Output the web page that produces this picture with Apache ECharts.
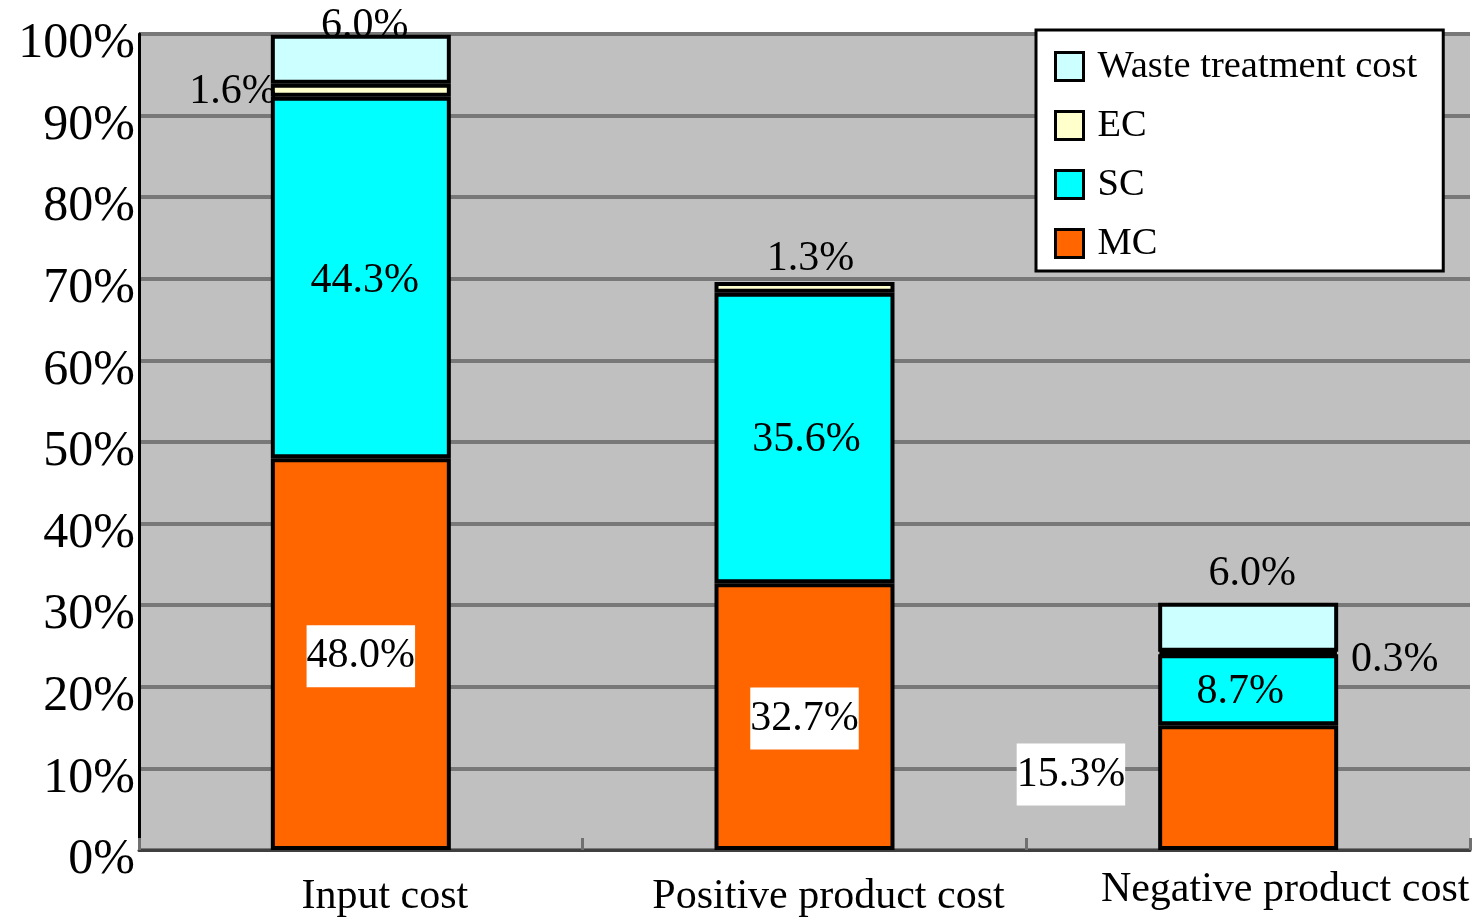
<!DOCTYPE html>
<html>
<head>
<meta charset="utf-8">
<script src="https://cdn.jsdelivr.net/npm/echarts@6/dist/echarts.min.js"></script>
<style>
html,body{margin:0;padding:0;background:#fff;}
#chart{width:1480px;height:920px;}
</style>
</head>
<body>
<div id="chart"></div>
<script>
var categories = ['Input cost', 'Positive product cost', 'Negative product cost'];
var mcValues = [48.0, 32.7, 15.3];
var scValues = [44.3, 35.6, 8.7];
var ecValues = [1.6, 1.3, 0.3];
var wasteValues = [6.0, null, 6.0];
var yTicks = [0, 10, 20, 30, 40, 50, 60, 70, 80, 90, 100];

var FONT = '"Liberation Serif", "Times New Roman", serif';
function fmt(p) { return p.value.toFixed(1) + '%'; }

var baseLabel = { show: true, color: '#000', fontFamily: FONT, fontSize: 42, formatter: fmt };

function item(v, label) { return v == null ? '-' : { value: v, label: label }; }

var mcLabels = [
  { position: 'inside', backgroundColor: '#fff', padding: [11, 0, 9, 0], offset: [0, 2] },
  { position: 'inside', backgroundColor: '#fff', padding: [11, 0, 9, 0], offset: [0, 2] },
  { position: 'left', distance: 33, backgroundColor: '#fff', padding: [11, 0, 9, 0], offset: [0, -13] }
];
var scLabels = [{ position: 'inside', offset: [4, 3] }, { position: 'inside', offset: [2, 2] }, { position: 'inside', offset: [-8, 2] }];
var ecLabels = [
  { position: 'left', distance: 0, offset: [6, 2] },
  { position: 'top', distance: 2, offset: [6, 0] },
  { position: 'right', distance: 12, offset: [0, 7] }
];
var wasteLabels = [
  { position: 'top', distance: 0, offset: [4, 12] },
  null,
  { position: 'top', distance: 8, offset: [4, 0] }
];

function mk(name, values, labels, color) {
  return {
    name: name,
    type: 'bar',
    stack: 'total',
    barWidth: 180,
    itemStyle: { color: color, borderColor: '#000', borderWidth: 4 },
    label: baseLabel,
    emphasis: { disabled: true },
    data: values.map(function (v, i) { return item(v, labels[i]); })
  };
}

var chart = echarts.init(document.getElementById('chart'), null, { renderer: 'canvas' });
chart.setOption({
  animation: false,
  backgroundColor: '#fff',
  grid: { left: 139, right: 10, top: 34, bottom: 70, show: true, backgroundColor: '#c0c0c0', borderWidth: 0 },
  legend: {
    orient: 'vertical',
    left: 1036,
    top: 30,
    padding: [17, 26, 8, 18],
    itemGap: 20,
    itemWidth: 28,
    itemHeight: 28,
    icon: 'rect',
    backgroundColor: '#fff',
    borderColor: '#000',
    borderWidth: 3,
    itemStyle: { borderColor: '#000', borderWidth: 3 },
    textStyle: { fontFamily: FONT, fontSize: 38.5, color: '#000', padding: [0, 0, 0, 9] },
    data: ['Waste treatment cost', 'EC', 'SC', 'MC']
  },
  xAxis: {
    type: 'category',
    data: categories,
    axisLine: { lineStyle: { color: '#404040', width: 3 } },
    axisTick: { show: true, inside: true, interval: 0, length: 12, lineStyle: { color: '#707070', width: 3 } },
    axisLabel: {
      interval: 0,
      hideOverlap: false,
      margin: 17,
      color: '#000',
      fontFamily: FONT,
      fontSize: 42,
      formatter: function (v, i) { return i === 2 ? '{n|' + v + '}' : '{p|' + v + '}'; },
      rich: {
        p: { fontFamily: FONT, fontSize: 42, color: '#000', padding: [9, 0, 0, 48] },
        n: { fontFamily: FONT, fontSize: 42, color: '#000', padding: [2, 0, 0, 74] }
      }
    },
    splitLine: { show: false }
  },
  yAxis: {
    type: 'value',
    min: yTicks[0],
    max: yTicks[yTicks.length - 1],
    interval: yTicks[1] - yTicks[0],
    axisLine: { show: true, lineStyle: { color: '#000', width: 3 } },
    axisTick: { show: false },
    axisLabel: {
      margin: 4,
      color: '#000',
      fontFamily: FONT,
      fontSize: 50,
      formatter: function (v) { return '{a|' + v + '%}'; },
      rich: {
        a: { fontFamily: FONT, fontSize: 50, color: '#000', padding: [20, 0, 0, 0] }
      }
    },
    splitLine: { show: true, lineStyle: { color: '#787878', width: 4 } }
  },
  series: [
    mk('MC', mcValues, mcLabels, '#ff6600'),
    mk('SC', scValues, scLabels, '#00ffff'),
    mk('EC', ecValues, ecLabels, '#ffffcc'),
    mk('Waste treatment cost', wasteValues, wasteLabels, '#ccffff')
  ]
});
</script>
</body>
</html>
